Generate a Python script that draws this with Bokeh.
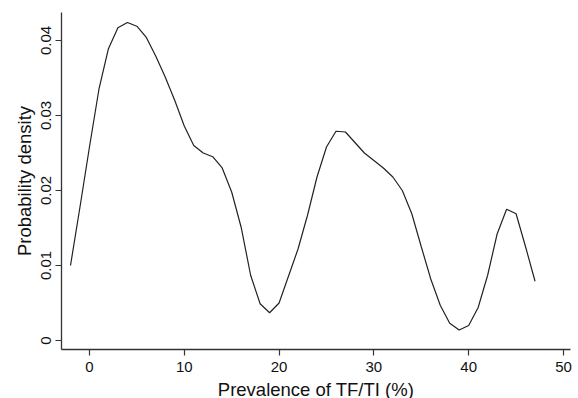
from bokeh.plotting import figure
from bokeh.models import FixedTicker, Range1d
from bokeh.embed import file_html
from bokeh.resources import INLINE

# Data (kernel density of prevalence)
prevalence = [-2, -1, 0, 1, 2, 3, 4, 5, 6, 7, 8, 9, 10, 11, 12, 13, 14, 15, 16,
              17, 18, 19, 20, 21, 22, 23, 24, 25, 26, 27, 28, 29, 30, 31, 32,
              33, 34, 35, 36, 37, 38, 39, 40, 41, 42, 43, 44, 45, 46, 47]
density = [0.0100, 0.0178, 0.0258, 0.0335, 0.0389, 0.0417, 0.0424, 0.0419,
           0.0404, 0.0379, 0.0351, 0.0320, 0.0286, 0.0260, 0.0250, 0.0245,
           0.0230, 0.0198, 0.0151, 0.0087, 0.0049, 0.0037, 0.0050, 0.0086,
           0.0122, 0.0167, 0.0218, 0.0258, 0.0279, 0.0278, 0.0264, 0.0250,
           0.0240, 0.0230, 0.0218, 0.0200, 0.0169, 0.0125, 0.0082, 0.0047,
           0.0023, 0.0014, 0.0020, 0.0044, 0.0087, 0.0142, 0.0175, 0.0169,
           0.0125, 0.0079]

x_ticks = [0, 10, 20, 30, 40, 50]
y_ticks = [0, 0.01, 0.02, 0.03, 0.04]
y_tick_labels = ["0", "0.01", "0.02", "0.03", "0.04"]

FONT = "Liberation Sans"

p = figure(width=578, height=404, output_backend="svg", toolbar_location=None,
           x_range=Range1d(-2.95, 50.74), y_range=Range1d(-0.0012, 0.04373),
           min_border_left=61, min_border_right=8, min_border_top=12,
           min_border_bottom=55)

p.line(prevalence, density, line_color="#222222", line_width=1.2)

p.grid.visible = False
p.outline_line_color = None
p.background_fill_color = "white"
p.border_fill_color = "white"

p.xaxis.ticker = FixedTicker(ticks=x_ticks)
p.yaxis.ticker = FixedTicker(ticks=y_ticks)
p.yaxis.major_label_overrides = {t: l for t, l in zip(y_ticks, y_tick_labels)}
p.xaxis.major_label_overrides = {t: str(t) for t in x_ticks}
p.yaxis.major_label_orientation = "vertical"

p.xaxis.axis_label = "Prevalence of TF/TI (%)"
p.yaxis.axis_label = "Probability density"

for ax in (p.xaxis[0], p.yaxis[0]):
    ax.axis_line_color = "#333333"
    ax.axis_line_width = 1.3
    ax.major_tick_line_color = "#333333"
    ax.major_tick_line_width = 1.2
    ax.major_tick_out = 6
    ax.major_tick_in = 0
    ax.minor_tick_line_color = None
    ax.major_label_text_font = FONT
    ax.major_label_text_font_size = "15px"
    ax.major_label_text_color = "#111111"
    ax.axis_label_text_font = FONT
    ax.axis_label_text_font_size = "18.5px"
    ax.axis_label_text_font_style = "normal"
    ax.axis_label_text_color = "#111111"

p.xaxis.major_label_standoff = 6
p.xaxis.axis_label_standoff = 4
p.yaxis.major_label_standoff = 4
p.yaxis.axis_label_standoff = 4

open("out.html", "w").write(file_html(p, INLINE))
